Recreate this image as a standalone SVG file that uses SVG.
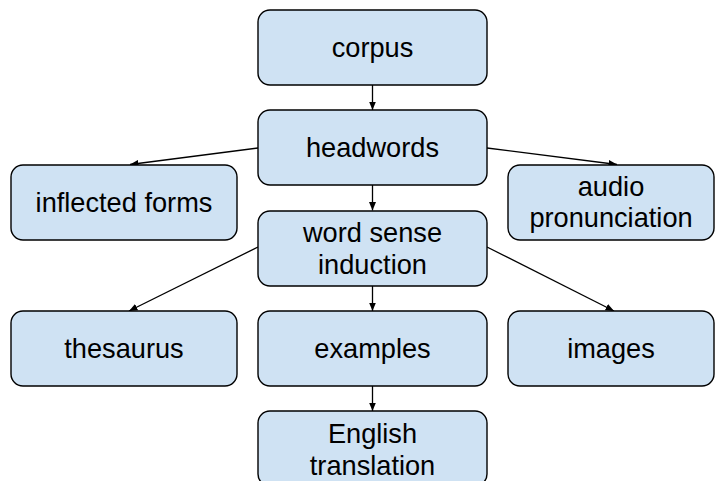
<svg xmlns="http://www.w3.org/2000/svg" width="724" height="481" viewBox="0 0 724 481">
<defs>
<marker id="ah" markerUnits="userSpaceOnUse" markerWidth="9" markerHeight="7" refX="8.5" refY="3.5" orient="auto">
<path d="M0,0 L8.5,3.5 L0,7 z" fill="#000"/>
</marker>
<style>
.box{fill:#cfe2f3;stroke:#000;stroke-width:1.4}
.t{font-family:"Liberation Sans",Arial,sans-serif;font-size:27.2px;fill:#000;text-anchor:middle}
.c{stroke:#000;stroke-width:1.3;fill:none;marker-end:url(#ah)}
</style>
</defs>
<rect width="724" height="481" fill="#fff"/>
<g id="connectors">
<line class="c" x1="372.5" y1="85" x2="372.5" y2="110"/>
<line class="c" x1="258" y1="148" x2="130" y2="164.5"/>
<line class="c" x1="487" y1="148" x2="617" y2="164.5"/>
<line class="c" x1="372.5" y1="185" x2="372.5" y2="210.5"/>
<line class="c" x1="258" y1="247" x2="129" y2="311"/>
<line class="c" x1="487" y1="247" x2="614" y2="311"/>
<line class="c" x1="372.5" y1="286" x2="372.5" y2="311"/>
<line class="c" x1="372.5" y1="386" x2="372.5" y2="411"/>
</g>
<g id="corpus"><rect class="box" x="258" y="10" width="229" height="75" rx="12"/><text class="t" x="372.5" y="57">corpus</text></g>
<g id="headwords"><rect class="box" x="258" y="110" width="229" height="75" rx="12"/><text class="t" x="372.5" y="157">headwords</text></g>
<g id="inflected"><rect class="box" x="11" y="165" width="226" height="75" rx="12"/><text class="t" x="124" y="212">inflected forms</text></g>
<g id="audio"><rect class="box" x="508" y="165" width="206" height="75" rx="12"/><text class="t" x="611" y="196">audio</text><text class="t" x="611" y="227">pronunciation</text></g>
<g id="wsi"><rect class="box" x="258" y="211" width="229" height="75" rx="12"/><text class="t" x="372.5" y="242">word sense</text><text class="t" x="372.5" y="274">induction</text></g>
<g id="thesaurus"><rect class="box" x="11" y="311" width="226" height="75" rx="12"/><text class="t" x="124" y="358">thesaurus</text></g>
<g id="examples"><rect class="box" x="258" y="311" width="229" height="75" rx="12"/><text class="t" x="372.5" y="358">examples</text></g>
<g id="images"><rect class="box" x="508" y="311" width="206" height="75" rx="12"/><text class="t" x="611" y="358">images</text></g>
<g id="english"><rect class="box" x="258" y="411" width="229" height="75" rx="12"/><text class="t" x="372.5" y="443">English</text><text class="t" x="372.5" y="475">translation</text></g>
</svg>
